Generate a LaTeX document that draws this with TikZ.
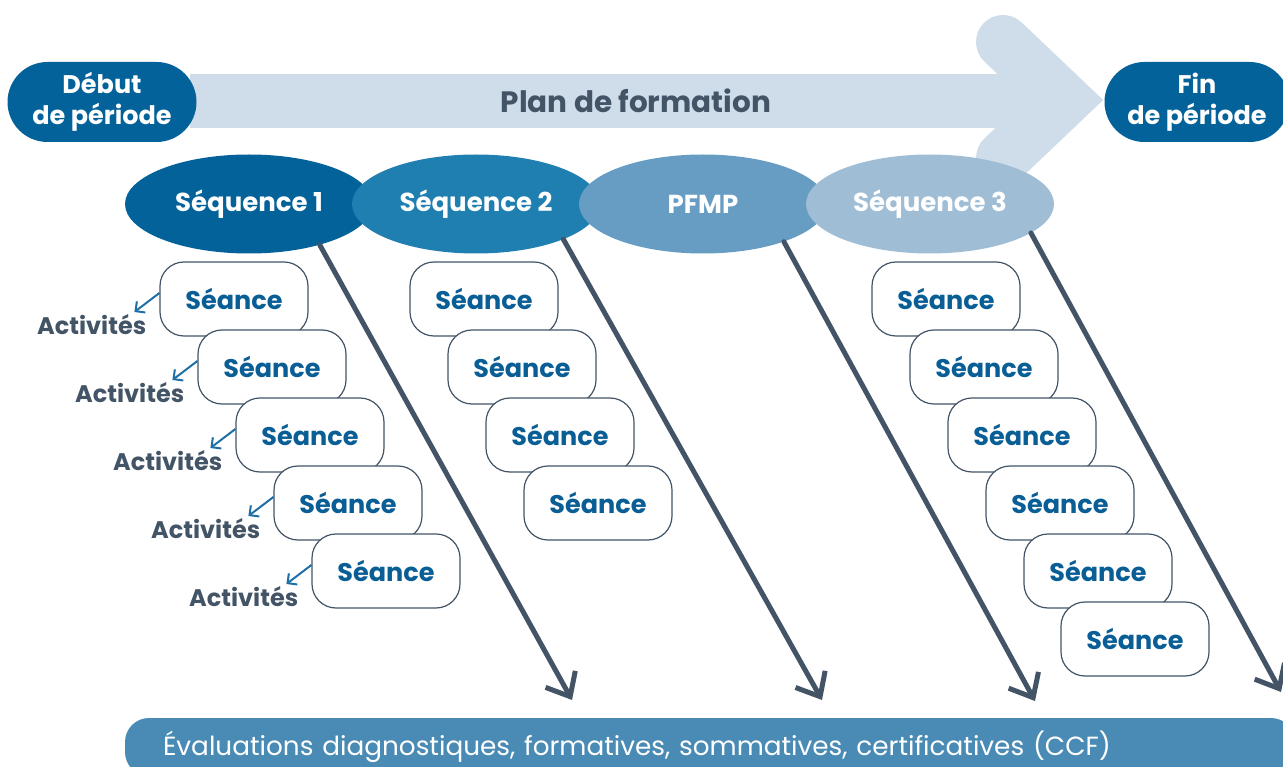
\documentclass[tikz,border=0pt]{standalone}
\usepackage{fontspec}
\setmainfont{Poppins}
\usepackage{xcolor}
\usetikzlibrary{calc, positioning, arrows.meta, shapes.geometric}
\definecolor{periodblue}{RGB}{4,98,154}
\definecolor{seqtwo}{RGB}{30,127,176}
\definecolor{pfmpblue}{RGB}{104,157,195}
\definecolor{seqthree}{RGB}{159,189,213}
\definecolor{planlight}{RGB}{207,221,234}
\definecolor{evalblue}{RGB}{74,139,181}
\definecolor{slate}{RGB}{66,84,102}
\definecolor{seanceblue}{RGB}{10,94,150}
\definecolor{actblue}{RGB}{31,111,166}
\tikzset{
    period/.style={rectangle, rounded corners=40pt, fill=periodblue, text=white, align=center, minimum width=189pt, minimum height=80pt, inner sep=0pt, font=\bfseries\fontsize{25.5}{31}\selectfont},
    sequence/.style={ellipse, minimum width=248pt, minimum height=99pt, inner sep=0pt, text=white, font=\bfseries\fontsize{26}{30}\selectfont},
    seance/.style={rectangle, rounded corners=24pt, draw=slate, line width=1.2pt, fill=white, minimum width=148pt, minimum height=74pt, text=seanceblue, font=\bfseries\fontsize{25.5}{30}\selectfont},
    activ/.style={inner sep=0pt, text=slate, font=\bfseries\fontsize{24}{28}\selectfont},
    actarrow/.style={-{Straight Barb[length=7pt, width=14pt]}, draw=actblue, line width=2pt},
    seqarrow/.style={-{Straight Barb[length=20pt, width=34pt]}, draw=slate, line width=5pt, line cap=round}
}
\begin{document}
\begin{tikzpicture}[
        x=1pt, y=-1pt,
        % Styles
        planbar/.style ={fill=planlight, draw=none},
        plantext/.style={text=slate, font=\bfseries\fontsize{29.5}{34}\selectfont},
        evalbar/.style ={rectangle, rounded corners=24pt, fill=evalblue, text=white, minimum width=1170pt, minimum height=58pt, text width=1094pt, align=left, inner xsep=38pt, font=\fontsize{26.3}{30}\selectfont}
    ]
    \useasboundingbox (0,0) rectangle (1283,767);
    \clip (0,0) rectangle (1283,767);

    % Plan de formation (big arrow)
    \fill[planbar] (190,74) rectangle (1050,128);
    \draw[draw=planlight, line width=54pt, line cap=round, line join=miter] (1003,42) -- (1064,100) -- (1003,158);
    \node[plantext] (plan) at (636,101) {Plan de formation};

    % Start and end of the period
    \node[period] (debut) at (102,102) {Début\\de période};
    \node[period, minimum width=185pt] (fin) at (1197,102) {Fin\\de période};

    % Sequences
    \node[sequence, fill=periodblue] (seq1) at (249,204) {Séquence 1};
    \node[sequence, fill=seqtwo] (seq2) at (476,204) {Séquence 2};
    \node[sequence, fill=pfmpblue] (pfmp) at (703,204) {PFMP};
    \node[sequence, fill=seqthree] (seq3) at (930,204) {Séquence 3};

    % Arrows down to the evaluations
    \coordinate (e1) at (572,700);
    \coordinate (e2) at (822,700);
    \coordinate (e3) at (1035,701);
    \coordinate (e4) at (1281,692);
    \draw[seqarrow] (seq1.-30) -- (e1);
    \draw[seqarrow] (seq2.-22) -- (e2);
    \draw[seqarrow] (pfmp.-25) -- (e3);
    \draw[seqarrow] (seq3.-16) -- (e4);

    % --- SEQUENCE 1 ---
    \node[seance] (s11) at (234,299) {Séance};
    \node[seance] (s12) at ($(s11)+(38,68)$) {Séance};
    \node[seance] (s13) at ($(s12)+(38,68)$) {Séance};
    \node[seance] (s14) at ($(s13)+(38,68)$) {Séance};
    \node[seance] (s15) at ($(s14)+(38,68)$) {Séance};

    % Activities
    \node[activ, below left=15pt and 13pt of s11.west] (a11) {Activités};
    \node[activ, below left=15pt and 13pt of s12.west] (a12) {Activités};
    \node[activ, below left=15pt and 13pt of s13.west] (a13) {Activités};
    \node[activ, below left=15pt and 13pt of s14.west] (a14) {Activités};
    \node[activ, below left=15pt and 13pt of s15.west] (a15) {Activités};
    \draw[actarrow] ([yshift=6pt]s11.west) -- ([xshift=-12pt, yshift=2pt]a11.north east);
    \draw[actarrow] ([yshift=6pt]s12.west) -- ([xshift=-12pt, yshift=2pt]a12.north east);
    \draw[actarrow] ([yshift=6pt]s13.west) -- ([xshift=-12pt, yshift=2pt]a13.north east);
    \draw[actarrow] ([yshift=6pt]s14.west) -- ([xshift=-12pt, yshift=2pt]a14.north east);
    \draw[actarrow] ([yshift=6pt]s15.west) -- ([xshift=-12pt, yshift=2pt]a15.north east);

    % --- SEQUENCE 2 ---
    \node[seance] (s21) at (484,299) {Séance};
    \node[seance] (s22) at ($(s21)+(38,68)$) {Séance};
    \node[seance] (s23) at ($(s22)+(38,68)$) {Séance};
    \node[seance] (s24) at ($(s23)+(38,68)$) {Séance};

    % --- SEQUENCE 3 ---
    \node[seance] (s31) at (946,299) {Séance};
    \node[seance] (s32) at ($(s31)+(38,68)$) {Séance};
    \node[seance] (s33) at ($(s32)+(38,68)$) {Séance};
    \node[seance] (s34) at ($(s33)+(38,68)$) {Séance};
    \node[seance] (s35) at ($(s34)+(38,68)$) {Séance};
    \node[seance] (s36) at ($(s35)+(37,68)$) {Séance};

    % Evaluations
    \node[evalbar] (eval) at (710,747) {Évaluations diagnostiques, formatives, sommatives, certificatives (CCF)};

\end{tikzpicture}
\end{document}
